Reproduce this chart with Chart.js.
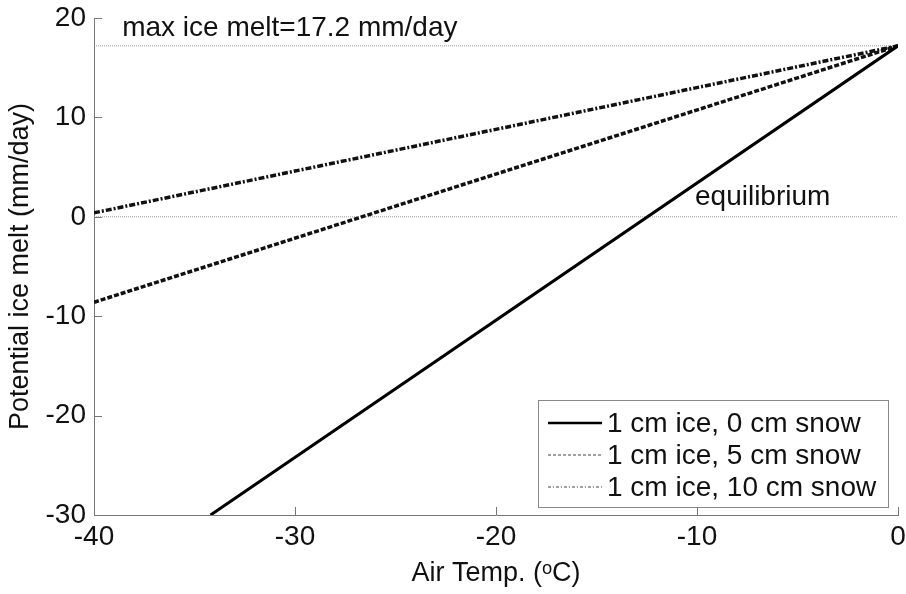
<!DOCTYPE html>
<html>
<head>
<meta charset="utf-8">
<script src="https://cdn.jsdelivr.net/npm/chart.js@4.4.0/dist/chart.umd.min.js"></script>
<style>
  html, body { margin: 0; padding: 0; background: #fff; }
  #wrap { width: 906px; height: 594px; }
</style>
</head>
<body>
<div id="wrap"><canvas id="chart" width="906" height="594"></canvas></div>
<script>
// air temperature end points (deg C) and melt values (mm/day)
const seriesLabels = ['1 cm ice, 0 cm snow', '1 cm ice, 5 cm snow', '1 cm ice, 10 cm snow'];
const temp0 = [-34.2, 0];
const melt0 = [-30, 17.2];
const temp5 = [-40, 0];
const melt5 = [-8.6, 17.2];
const temp10 = [-40, 0];
const melt10 = [0.4, 17.2];

const maxMelt = 17.2;
const equilibrium = 0;
const xTicks = [-40, -30, -20, -10, 0];
const yTicks = [-30, -20, -10, 0, 10, 20];

const FONT = '"Liberation Sans", Arial, Helvetica, sans-serif';

function pts(xs, ys) {
    return xs.map((x, i) => ({x: x, y: ys[i]}));
}

// inward tick marks, text notes and the boxed legend
const extras = {
    id: 'extras',
    afterDraw(chart) {
        const ctx = chart.ctx;
        const a = chart.chartArea;
        const xs = chart.scales.x, ys = chart.scales.y;
        ctx.save();
        ctx.strokeStyle = '#777';
        ctx.lineWidth = 1;
        ctx.beginPath();
        xTicks.forEach(v => {
            const px = Math.round(xs.getPixelForValue(v)) + 0.5;
            ctx.moveTo(px, a.bottom);
            ctx.lineTo(px, a.bottom - 8);
        });
        yTicks.forEach(v => {
            const py = Math.round(ys.getPixelForValue(v)) + 0.5;
            ctx.moveTo(a.left, py);
            ctx.lineTo(a.left + 8, py);
        });
        ctx.stroke();

        ctx.fillStyle = '#111';
        ctx.font = '28px ' + FONT;
        ctx.textBaseline = 'alphabetic';
        ctx.textAlign = 'left';
        ctx.fillText('max ice melt=' + maxMelt + ' mm/day', xs.getPixelForValue(-38.6), ys.getPixelForValue(18.2));
        ctx.fillText('equilibrium', xs.getPixelForValue(-10.1), ys.getPixelForValue(1.15));

        // legend
        const bx = 538, by = 400, bw = 350, bh = 107;
        ctx.fillStyle = '#fff';
        ctx.fillRect(bx, by, bw, bh);
        ctx.strokeStyle = '#888';
        ctx.strokeRect(bx + 0.5, by + 0.5, bw, bh);
        const ds = chart.data.datasets;
        for (let i = 0; i < 3; i++) {
            const ly = by + 23 + i * 32;
            ctx.strokeStyle = i === 0 ? '#000' : '#444';
            ctx.lineWidth = i === 0 ? 2.5 : 1.2;
            ctx.setLineDash(i === 0 ? [] : (i === 1 ? [3, 2] : [3, 2, 1, 2]));
            ctx.beginPath();
            ctx.moveTo(bx + 10, ly);
            ctx.lineTo(bx + 64, ly);
            ctx.stroke();
            ctx.setLineDash([]);
            ctx.fillStyle = '#111';
            ctx.font = '28px ' + FONT;
            ctx.textBaseline = 'middle';
            ctx.fillText(ds[i].label, bx + 69, ly + 1);
        }
        ctx.restore();
    }
};

new Chart(document.getElementById('chart'), {
    type: 'scatter',
    data: {
        datasets: [
            {label: seriesLabels[0], data: pts(temp0, melt0), showLine: true, borderColor: '#000', borderWidth: 3, pointRadius: 0},
            {label: seriesLabels[1], data: pts(temp5, melt5), showLine: true, borderColor: '#111', borderWidth: 3.5, borderDash: [5, 2], pointRadius: 0},
            {label: seriesLabels[2], data: pts(temp10, melt10), showLine: true, borderColor: '#111', borderWidth: 3.5, borderDash: [6, 2, 2, 2], pointRadius: 0},
            {label: 'max', data: pts([-40, 0], [maxMelt, maxMelt]), showLine: true, borderColor: '#999', borderWidth: 1, borderDash: [1, 1], pointRadius: 0},
            {label: 'eq', data: pts([-40, 0], [equilibrium, equilibrium]), showLine: true, borderColor: '#999', borderWidth: 1, borderDash: [1, 1], pointRadius: 0}
        ]
    },
    options: {
        responsive: false,
        animation: false,
        layout: {padding: {top: 18, right: 8, left: 0, bottom: 0}},
        plugins: {legend: {display: false}, tooltip: {enabled: false}},
        scales: {
            x: {
                type: 'linear', min: -40, max: 0,
                afterBuildTicks: s => { s.ticks = xTicks.map(v => ({value: v})); },
                afterFit: s => { s.height = 79; s.paddingLeft = 0; s.paddingRight = 0; },
                grid: {drawOnChartArea: false, drawTicks: false},
                border: {color: '#777', width: 1},
                ticks: {color: '#111', font: {size: 28, family: FONT}, padding: 5, maxRotation: 0},
                title: {display: true, text: 'Air Temp. (ᵒC)', color: '#111', font: {size: 27, family: FONT}, padding: {top: 7}}
            },
            y: {
                type: 'linear', min: -30, max: 20,
                afterBuildTicks: s => { s.ticks = yTicks.map(v => ({value: v})); },
                afterFit: s => { s.width = 94; s.paddingTop = 0; s.paddingBottom = 0; },
                grid: {drawOnChartArea: false, drawTicks: false},
                border: {color: '#777', width: 1},
                ticks: {color: '#111', font: {size: 28, family: FONT}, padding: 8},
                title: {display: true, text: 'Potential ice melt (mm/day)', color: '#111', font: {size: 27, family: FONT}, padding: {bottom: 0}}
            }
        }
    },
    plugins: [extras]
});
</script>
</body>
</html>
